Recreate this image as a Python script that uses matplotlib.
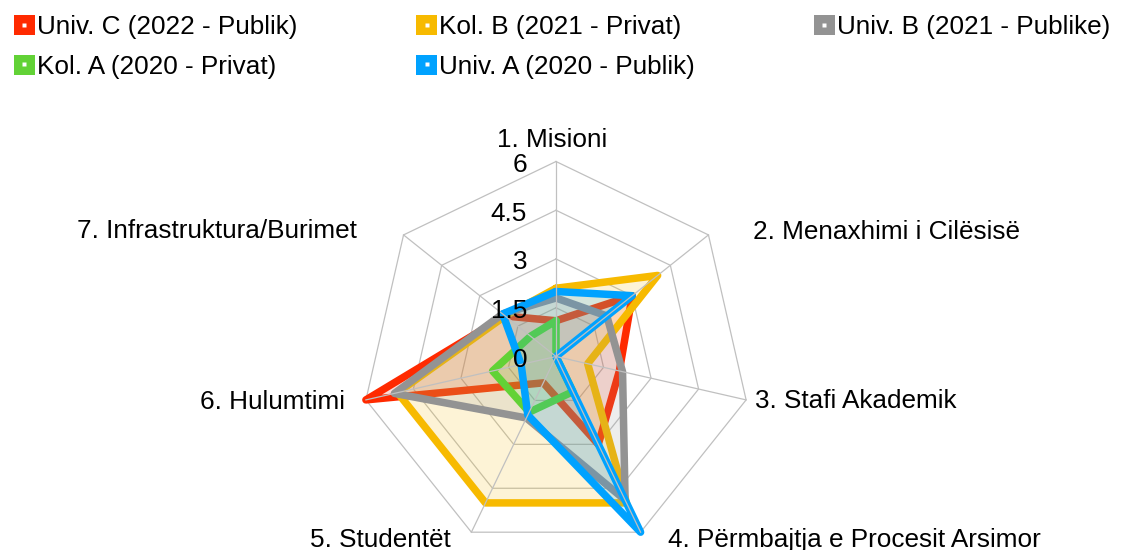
import numpy as np
import matplotlib
matplotlib.use("Agg")
import matplotlib.pyplot as plt
from matplotlib.patches import Patch
from matplotlib.lines import Line2D

plt.rcParams['font.family'] = ['Liberation Sans', 'DejaVu Sans']

# categories (clockwise from the top)
categories = ['1. Misioni', '2. Menaxhimi i Cilësisë', '3. Stafi Akademik',
              '4. Përmbajtja e Procesit Arsimor', '5. Studentët', '6. Hulumtimi',
              '7. Infrastruktura/Burimet']
series_names = ['Univ. C (2022 - Publik)', 'Kol. B (2021 - Privat)',
                'Univ. B (2021 - Publike)', 'Kol. A (2020 - Privat)',
                'Univ. A (2020 - Publik)']
univ_c = [1.1, 3.0, 2.0, 3.0, 0.9, 6.0, 2.0]
kol_b = [2.1, 4.0, 1.0, 5.0, 5.0, 5.0, 2.0]
univ_b = [1.8, 2.0, 2.1, 4.9, 2.1, 5.1, 2.1]
kol_a = [1.1, 0.0, 0.0, 1.2, 1.9, 2.0, 1.0]
univ_a = [2.0, 3.0, 0.0, 6.0, 2.0, 1.1, 2.1]
ticks = [0, 1.5, 3, 4.5, 6]
tick_labels = ['0', '1.5', '3', '4.5', '6']

colors = ['#FF2A00', '#F7BA00', '#939393', '#62D236', '#00A2FF']
grid_color = '#C0C0C0'
fs = 18.8

fig = plt.figure(figsize=(11.21, 5.5), dpi=100)
# square polar box, 390 px wide, centred at (556, 356.5) px
ax = fig.add_axes([361 / 1121, -1.5 / 550, 390 / 1121, 390 / 550], projection='polar')
ax.set_theta_offset(np.pi / 2)
ax.set_theta_direction(-1)
ax.set_ylim(0, 6)
ax.axis('off')

n = len(categories)
angles = np.arange(n) * 2 * np.pi / n
closed = np.append(angles, angles[0])

# heptagon rings
for t in ticks[1:]:
    ax.plot(closed, [t] * (n + 1), color=grid_color, lw=0.9, zorder=1, clip_on=False)

all_series = [univ_c, kol_b, univ_b, kol_a, univ_a]
for i, (vals, c) in enumerate(zip(all_series, colors)):
    v = list(vals) + [vals[0]]
    ax.fill(closed, v, color=c, alpha=0.16, lw=0, zorder=2 + i)
    ax.plot(closed, v, color=c, lw=5.4, solid_joinstyle='round',
            solid_capstyle='round', zorder=2.5 + i, clip_on=False)

# spokes
for a in angles:
    ax.plot([a, a], [0, 6], color=grid_color, lw=0.9, zorder=10, clip_on=False)

# category labels
offs = [(-4, 14.8, 'center'), (44.2, -4.3, 'left'), (8.9, -8.4, 'left'),
        (27.4, -14.5, 'left'), (-20.4, -14.5, 'right'), (-20.9, -9.4, 'right'),
        (-46.5, -3.3, 'right')]
for a, lab, (dx, dy, ha) in zip(angles, categories, offs):
    ax.annotate(lab, xy=(a, 6), xytext=(dx, dy), textcoords='offset pixels',
                ha=ha, va='baseline', fontsize=fs, annotation_clip=False)

# value labels
for t, lab in zip(ticks, tick_labels):
    ax.annotate(lab, xy=(0, t), xytext=(-29, -10.3), textcoords='offset pixels',
                ha='right', va='baseline', fontsize=fs, zorder=11,
                annotation_clip=False)

# legend (row-wise like the original)
order = [0, 3, 1, 4, 2]
handles = []
for i in order:
    handles.append((Patch(facecolor=colors[i], edgecolor='none'),
                    Line2D([], [], ls='none', marker='s', ms=2.2,
                           mfc='white', mec='none')))
fig.legend(handles, [series_names[i] for i in order], ncol=3, loc='upper left',
           bbox_to_anchor=(14 / 1121, 1 - 15 / 550), frameon=False,
           borderpad=0, borderaxespad=0, handlelength=0.8, handleheight=0.8,
           handletextpad=0.08, columnspacing=4.55, labelspacing=0.6, fontsize=fs)

fig.savefig('out.png', dpi=100)
